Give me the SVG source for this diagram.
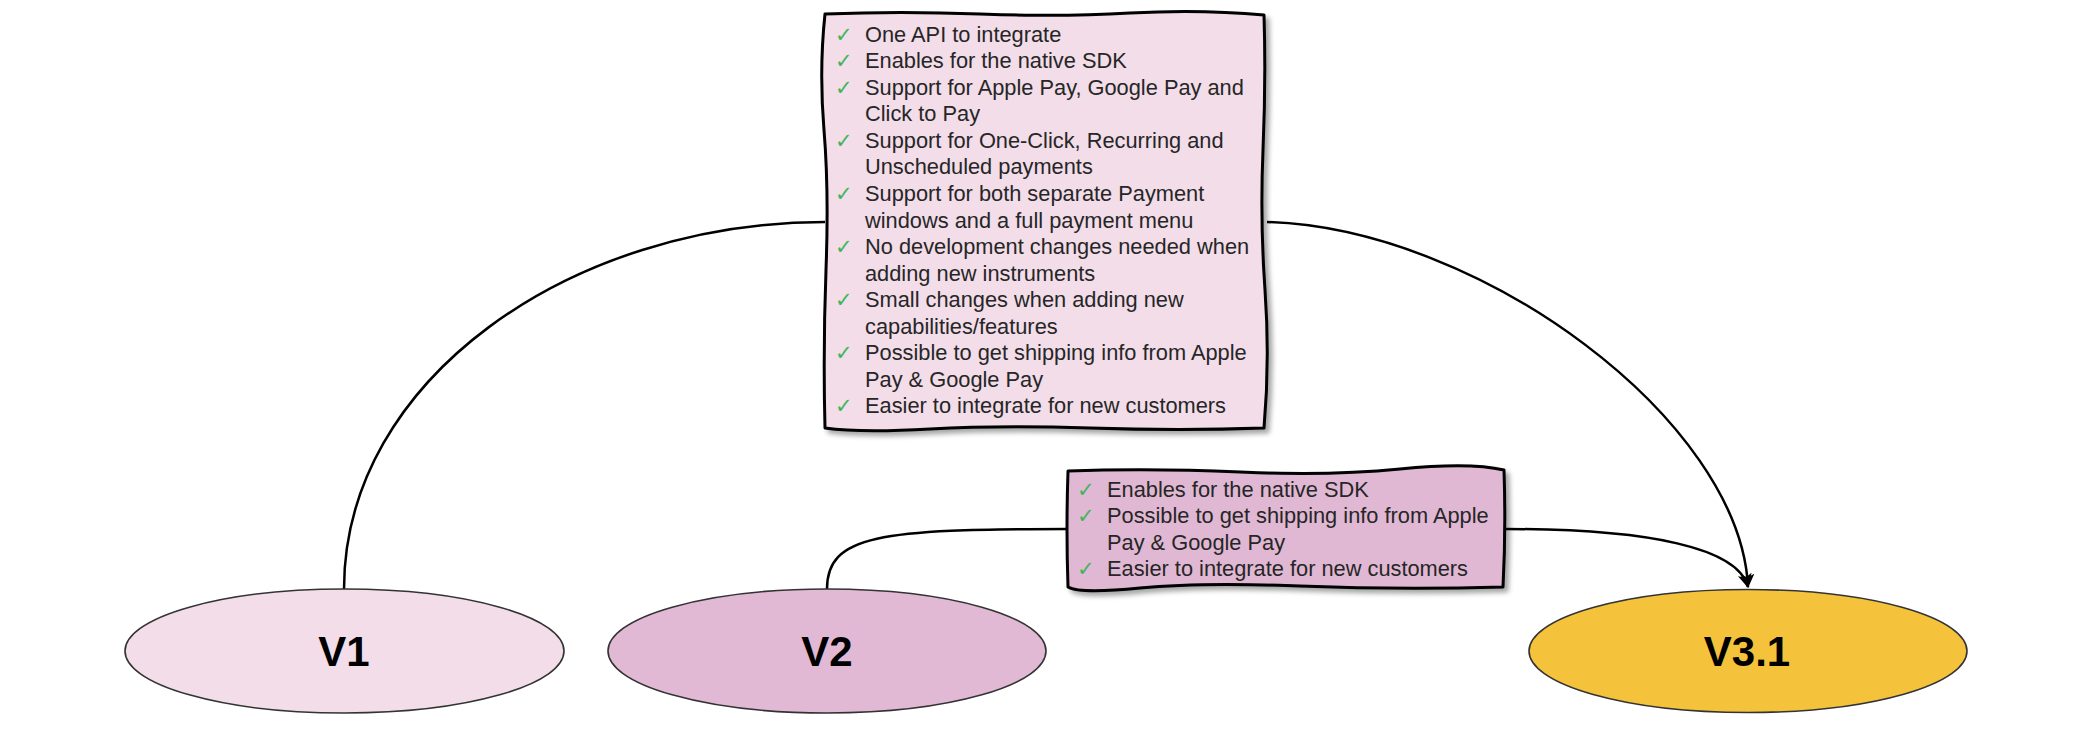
<svg xmlns="http://www.w3.org/2000/svg" width="2096" height="731" viewBox="0 0 2096 731">
<defs>
<filter id="sh" x="-5%" y="-5%" width="115%" height="115%">
<feGaussianBlur in="SourceAlpha" stdDeviation="2.5"/>
<feOffset dx="4" dy="4" result="b"/>
<feComponentTransfer><feFuncA type="linear" slope="0.35"/></feComponentTransfer>
<feMerge><feMergeNode/><feMergeNode in="SourceGraphic"/></feMerge>
</filter>
<marker id="arr" viewBox="0 0 14 14" refX="13" refY="7" markerWidth="14" markerHeight="14" markerUnits="userSpaceOnUse" orient="auto">
<path d="M0,0 L14,7 L0,14 L3.5,7 Z" fill="#000"/>
</marker>
</defs>
<style>
.edge{fill:none;stroke:#000;stroke-width:2.5}
.box{stroke:#000;stroke-width:3;stroke-linejoin:round}
.ell{stroke:#333;stroke-width:1.6}
.t{font-family:"Liberation Sans",Arial,sans-serif;font-size:21.8px;fill:#262626}
.ck{font-family:"DejaVu Sans",sans-serif;font-size:21px;font-weight:bold;fill:#3fb55a}
.v{font-family:"Liberation Sans",Arial,sans-serif;font-size:42px;font-weight:bold;fill:#000;text-anchor:middle}
</style>
<rect width="2096" height="731" fill="#fff"/>
<g id="connectors">
<path class="edge" d="M344,589 C344,380 570,222 825,222"/>
<path class="edge" d="M1267,222 C1480,228 1740,420 1748,587" marker-end="url(#arr)"/>
<path class="edge" d="M827,589 C827,535 880,529 1068,529"/>
<path class="edge" d="M1505,529 C1650,529 1738,548 1748,587" marker-end="url(#arr)"/>
</g>
<g id="node-v1">
<ellipse class="ell" cx="344.5" cy="651" rx="219.5" ry="62" fill="#f2dde9"/>
<text class="v" x="344" y="666">V1</text>
</g>
<g id="node-v2">
<ellipse class="ell" cx="827" cy="651" rx="219" ry="62" fill="#e2b9d5"/>
<text class="v" x="827" y="666">V2</text>
</g>
<g id="node-v31">
<ellipse class="ell" cx="1748" cy="651" rx="219" ry="61.5" fill="#f5c33b"/>
<text class="v" x="1747" y="666">V3.1</text>
</g>
<g id="node-v3-features">
<path class="box" filter="url(#sh)" fill="#f2dde9" d="M825,14 Q900,11 980,14 T1130,13 T1264,15 Q1266,80 1263,150 T1265,290 T1264,428 Q1180,431 1090,428 T930,429 T825,428 Q823,350 826,270 T824,130 T825,14 Z"/>
<text class="ck">
<tspan x="835" y="41.7">✓</tspan><tspan x="835" y="68.2">✓</tspan><tspan x="835" y="94.8">✓</tspan><tspan x="835" y="147.9">✓</tspan><tspan x="835" y="201">✓</tspan><tspan x="835" y="254">✓</tspan><tspan x="835" y="307.1">✓</tspan><tspan x="835" y="360.2">✓</tspan><tspan x="835" y="413.3">✓</tspan>
</text>
<text class="t">
<tspan x="865" y="41.7">One API to integrate</tspan>
<tspan x="865" y="68.2">Enables for the native SDK</tspan>
<tspan x="865" y="94.8">Support for Apple Pay, Google Pay and</tspan>
<tspan x="865" y="121.3">Click to Pay</tspan>
<tspan x="865" y="147.9">Support for One-Click, Recurring and</tspan>
<tspan x="865" y="174.4">Unscheduled payments</tspan>
<tspan x="865" y="201">Support for both separate Payment</tspan>
<tspan x="865" y="227.5">windows and a full payment menu</tspan>
<tspan x="865" y="254">No development changes needed when</tspan>
<tspan x="865" y="280.6">adding new instruments</tspan>
<tspan x="865" y="307.1">Small changes when adding new</tspan>
<tspan x="865" y="333.7">capabilities/features</tspan>
<tspan x="865" y="360.2">Possible to get shipping info from Apple</tspan>
<tspan x="865" y="386.7">Pay &amp; Google Pay</tspan>
<tspan x="865" y="413.3">Easier to integrate for new customers</tspan>
</text>
</g>
<g id="node-v2-features">
<path class="box" filter="url(#sh)" fill="#e1b8d4" d="M1068,471 Q1150,468 1240,472 T1400,469 T1504,470 Q1506,530 1503,587 Q1400,590 1300,586 T1140,588 T1068,587 Q1066,530 1068,471 Z"/>
<text class="ck">
<tspan x="1077" y="496.7">✓</tspan><tspan x="1077" y="523.3">✓</tspan><tspan x="1077" y="576.4">✓</tspan>
</text>
<text class="t">
<tspan x="1107" y="496.7">Enables for the native SDK</tspan>
<tspan x="1107" y="523.3">Possible to get shipping info from Apple</tspan>
<tspan x="1107" y="549.9">Pay &amp; Google Pay</tspan>
<tspan x="1107" y="576.4">Easier to integrate for new customers</tspan>
</text>
</g>
</svg>
